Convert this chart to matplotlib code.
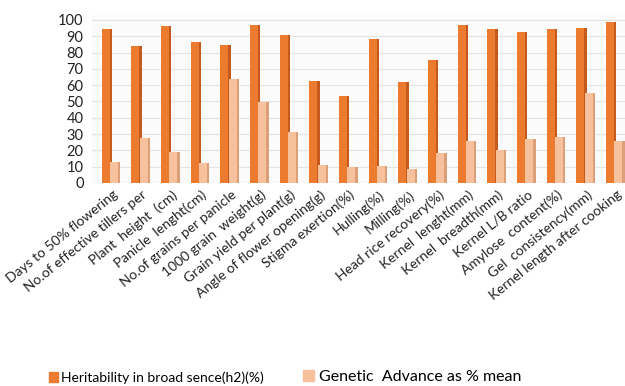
import numpy as np
import matplotlib.pyplot as plt
from matplotlib.patches import Patch

traits = [
    "Days to 50% flowering", "No.of effective tillers per", "Plant  height  (cm)",
    "Panicle  lenght(cm)", "No.of grains per panicle", "1000 grain  weight(g)",
    "Grain yield per plant(g)", "Angle of flower opening(g)", "Stigma exertion(%)",
    "Hulling(%)", "Milling(%)", "Head rice recovery(%)", "Kernel  lenght(mm)",
    "Kernel  breadth(mm)", "Kernel L/B ratio", "Amylose  content(%)",
    "Gel  consistency(mm)", "Kernel length after cooking",
]
heritability = [94.5, 84, 96, 86.5, 84.5, 97, 90.5, 62.5, 53.5, 88.5, 62, 75.5,
                97, 94.5, 92.5, 94.5, 95, 98.5]
genetic_advance = [13, 27.5, 19, 12.5, 64, 49.5, 31.5, 11, 10, 10.5, 8.5, 18.5,
                   25.5, 20, 27, 28.5, 55, 25.5]

DARK, DARK_SIDE = "#ec7b30", "#c45a1c"
LIGHT, LIGHT_SIDE = "#f6c19c", "#dc9f78"

fig = plt.figure(figsize=(6.25, 3.86), dpi=100)
ax = fig.add_axes([0.147, 0.526, 0.853, 0.435])
ax.set_facecolor("#fbfbfb")

x = np.arange(len(traits))
front_w, side_w = 0.27, 0.08

# front faces plus a darker strip on the right for a bit of depth
ax.bar(x - 0.33, heritability, width=front_w, align="edge", color=DARK, zorder=3)
ax.bar(x - 0.33 + front_w, heritability, width=side_w, align="edge",
       color=DARK_SIDE, zorder=3)
ax.bar(x - 0.05, genetic_advance, width=front_w, align="edge", color=LIGHT, zorder=4)
ax.bar(x - 0.05 + front_w, genetic_advance, width=side_w, align="edge",
       color=LIGHT_SIDE, zorder=4)

ax.set_xlim(-0.66, 17.31)
ax.set_ylim(0, 103)
ax.set_yticks(range(0, 101, 10))
ax.yaxis.grid(True, color="#e4e4e4", lw=0.9, zorder=0)
ax.tick_params(axis="y", length=0, pad=6, labelsize=10.5, labelcolor="#222222")
for lbl in ax.get_yticklabels():
    lbl.set_family("Lato")

ax.set_xticks(x + 0.02)
ax.set_xticklabels(traits, rotation=39, ha="right", rotation_mode="anchor",
                   fontsize=10, family="Lato", color="#222222")
ax.tick_params(axis="x", length=0, pad=4)
for side in ax.spines.values():
    side.set_visible(False)

fig.legend(handles=[Patch(color=DARK)], labels=["Heritability in broad sence(h2)(%)"],
           loc="center left", bbox_to_anchor=(0.058, 0.022), frameon=False,
           handlelength=0.7, handleheight=0.7, handletextpad=0.2,
           prop={"family": "Lato", "size": 10})
fig.legend(handles=[Patch(color=LIGHT)], labels=["Genetic  Advance as % mean"],
           loc="center left", bbox_to_anchor=(0.462, 0.024), frameon=False,
           handlelength=0.7, handleheight=0.7, handletextpad=0.3,
           prop={"family": "Lato", "size": 11.5})

fig.savefig("out.png", dpi=100)
